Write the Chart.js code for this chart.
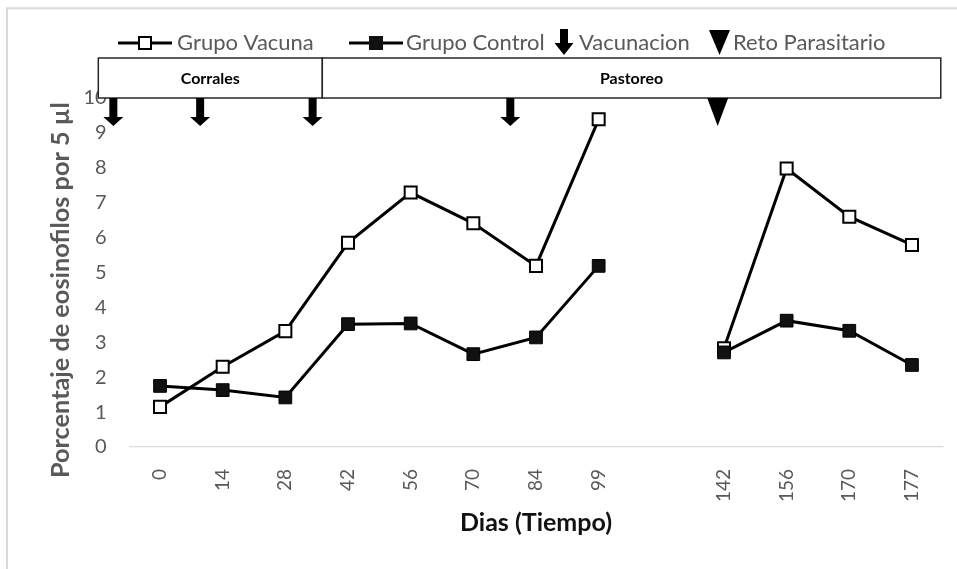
<!DOCTYPE html>
<html>
<head>
<meta charset="utf-8">
<script src="https://cdn.jsdelivr.net/npm/chart.js@4"></script>
<style>
  html, body { margin: 0; padding: 0; background: #ffffff; }
  canvas { display: block; }
</style>
</head>
<body>
<canvas id="c" width="957" height="569"></canvas>
<script>
// ---- Data ----
const dias = ['0', '14', '28', '42', '56', '70', '84', '99', '', '142', '156', '170', '177'];
const grupoVacuna = [1.15, 2.30, 3.32, 5.85, 7.29, 6.41, 5.19, 9.39, null, 2.83, 7.98, 6.60, 5.79];
const grupoControl = [1.75, 1.63, 1.42, 3.52, 3.54, 2.66, 3.14, 5.19, null, 2.71, 3.62, 3.33, 2.35];
const yMin = 0;
const yMax = 10;
const yStep = 1;
// Event markers, expressed as positions on the category axis (index units)
const vacunacionPos = [-0.745, 0.64, 2.435, 5.59];
const retoPos = [8.9];
// Phase header boxes, in category-index units
const fasesNombre = ['Corrales', 'Pastoreo'];
const fasesInicio = [-0.985, 2.59];
const fasesFin = [2.59, 12.46];
const leyenda = ['Grupo Vacuna', 'Grupo Control', 'Vacunacion', 'Reto Parasitario'];
const tituloY = 'Porcentaje de eosinofilos por 5 µl';
const tituloX = 'Dias (Tiempo)';

const FONT = 'Lato';
const GREY = '#595959';

function downArrow(ctx, cx, top, tip, shaftW, headW, headL) {
  ctx.beginPath();
  ctx.moveTo(cx - shaftW / 2, top);
  ctx.lineTo(cx + shaftW / 2, top);
  ctx.lineTo(cx + shaftW / 2, tip - headL);
  ctx.lineTo(cx + headW / 2, tip - headL);
  ctx.lineTo(cx, tip);
  ctx.lineTo(cx - headW / 2, tip - headL);
  ctx.lineTo(cx - shaftW / 2, tip - headL);
  ctx.closePath();
  ctx.fill();
}
function downTriangle(ctx, cx, top, tip, w) {
  ctx.beginPath();
  ctx.moveTo(cx - w / 2, top);
  ctx.lineTo(cx + w / 2, top);
  ctx.lineTo(cx, tip);
  ctx.closePath();
  ctx.fill();
}

const decor = {
  id: 'decor',
  beforeDraw(chart) {
    const ctx = chart.ctx;
    ctx.save();
    ctx.fillStyle = '#ffffff';
    ctx.fillRect(0, 0, chart.width, chart.height);
    ctx.strokeStyle = '#d9d9d9';
    ctx.lineWidth = 2;
    ctx.beginPath();
    ctx.moveTo(7, chart.height);
    ctx.lineTo(7, 8.3);
    ctx.lineTo(chart.width, 8.3);
    ctx.stroke();
    ctx.restore();
  },
  afterDraw(chart) {
    const ctx = chart.ctx;
    const xs = chart.scales.x, ys = chart.scales.y;
    const area = chart.chartArea;
    ctx.save();
    // phase boxes
    ctx.font = 'bold 16px ' + FONT;
    ctx.textAlign = 'center';
    ctx.textBaseline = 'middle';
    for (let i = 0; i < fasesNombre.length; i++) {
      const x0 = xs.getPixelForValue(fasesInicio[i]);
      const x1 = xs.getPixelForValue(fasesFin[i]);
      const y0 = area.top - 40, y1 = area.top;
      ctx.fillStyle = '#ffffff';
      ctx.fillRect(x0, y0, x1 - x0, y1 - y0);
      ctx.strokeStyle = '#262626';
      ctx.lineWidth = 1.5;
      ctx.strokeRect(x0, y0, x1 - x0, y1 - y0);
      ctx.fillStyle = '#000000';
      ctx.fillText(fasesNombre[i], (x0 + x1) / 2, (y0 + y1) / 2 + 1);
    }
    // event arrows
    ctx.fillStyle = '#000000';
    const top = ys.getPixelForValue(yMax);
    const tip = ys.getPixelForValue(9.2);
    vacunacionPos.forEach(p => downArrow(ctx, xs.getPixelForValue(p), top, tip, 8, 20, 9));
    retoPos.forEach(p => downTriangle(ctx, xs.getPixelForValue(p), top, tip, 21));

    // legend
    const ly = 43;
    ctx.font = '22px ' + FONT;
    ctx.textAlign = 'left';
    ctx.textBaseline = 'middle';
    // Grupo Vacuna
    ctx.strokeStyle = '#000'; ctx.lineWidth = 3;
    ctx.beginPath(); ctx.moveTo(118, ly); ctx.lineTo(172, ly); ctx.stroke();
    ctx.fillStyle = '#fff'; ctx.fillRect(139, ly - 6, 12, 12);
    ctx.lineWidth = 2; ctx.strokeRect(139, ly - 6, 12, 12);
    ctx.fillStyle = GREY; ctx.fillText(leyenda[0], 177, ly);
    // Grupo Control
    ctx.lineWidth = 3;
    ctx.beginPath(); ctx.moveTo(349, ly); ctx.lineTo(403, ly); ctx.stroke();
    ctx.fillStyle = '#111'; ctx.fillRect(369, ly - 7, 14, 14);
    ctx.fillStyle = GREY; ctx.fillText(leyenda[1], 406, ly);
    // Vacunacion
    ctx.fillStyle = '#000';
    downArrow(ctx, 564, 29, 55, 8, 19, 12);
    ctx.fillStyle = GREY; ctx.fillText(leyenda[2], 579, ly);
    // Reto
    ctx.fillStyle = '#000';
    downTriangle(ctx, 719.5, 30, 55, 21);
    ctx.fillStyle = GREY; ctx.fillText(leyenda[3], 733, ly);

    // y title: fitted to span the same length as the reference
    ctx.font = 'bold 22px ' + FONT;
    const w22 = ctx.measureText(tituloY).width;
    const fs = 22 * 376 / w22;
    ctx.font = 'bold ' + fs.toFixed(2) + 'px ' + FONT;
    ctx.translate(61, 478);
    ctx.rotate(-Math.PI / 2);
    ctx.textAlign = 'left';
    ctx.fillStyle = GREY;
    ctx.fillText(tituloY, 0, 0);
    ctx.restore();
  }
};

new Chart(document.getElementById('c'), {
  type: 'line',
  data: {
    labels: dias,
    datasets: [
      {
        label: 'Grupo Control',
        data: grupoControl,
        order: 0,
        borderColor: '#000000',
        borderWidth: 3,
        pointStyle: 'rect',
        pointRadius: 9,
        pointBackgroundColor: '#111111',
        pointBorderColor: '#000000',
        pointBorderWidth: 1,
        spanGaps: false,
        tension: 0
      },
      {
        label: 'Grupo Vacuna',
        data: grupoVacuna,
        order: 1,
        borderColor: '#000000',
        borderWidth: 3,
        pointStyle: 'rect',
        pointRadius: 8.5,
        pointBackgroundColor: '#ffffff',
        pointBorderColor: '#000000',
        pointBorderWidth: 2,
        spanGaps: false,
        tension: 0
      }
    ]
  },
  options: {
    responsive: false,
    animation: false,
    devicePixelRatio: 1,
    layout: { padding: { left: 0, right: 13.7, top: 98, bottom: 0 } },
    plugins: { legend: { display: false }, tooltip: { enabled: false } },
    scales: {
      x: {
        type: 'category',
        offset: true,
        grid: { display: false },
        border: { display: false },
        ticks: {
          autoSkip: false,
          minRotation: 90,
          maxRotation: 90,
          padding: 14,
          color: GREY,
          font: { family: FONT, size: 19 }
        },
        title: {
          display: true,
          text: tituloX,
          color: '#111111',
          font: { family: FONT, size: 25, weight: 'bold' },
          padding: { top: 0, bottom: 31 }
        },
        afterFit(s) { s.height = 122; }
      },
      y: {
        min: yMin,
        max: yMax,
        ticks: {
          stepSize: yStep,
          padding: 22,
          color: GREY,
          font: { family: FONT, size: 20 }
        },
        grid: {
          drawTicks: false,
          color: c => (c.tick && c.tick.value === 0) ? '#d9d9d9' : 'rgba(0,0,0,0)',
          lineWidth: 1.2
        },
        border: { display: false },
        afterFit(s) { s.width = 128.7; }
      }
    }
  },
  plugins: [decor]
});
</script>
</body>
</html>
